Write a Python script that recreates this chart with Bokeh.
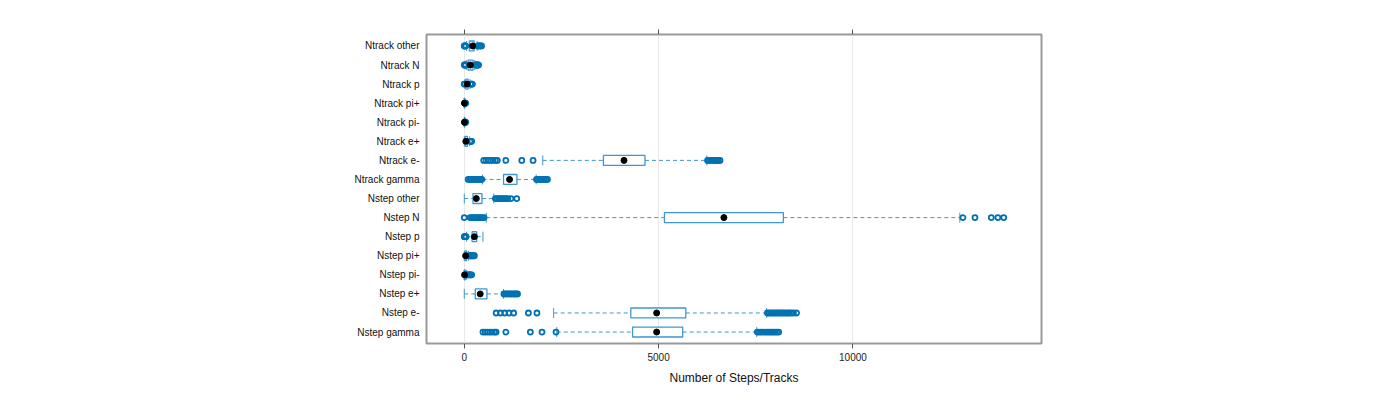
from bokeh.plotting import figure
from bokeh.models import Range1d, LinearAxis, FixedTicker
from bokeh.embed import file_html
from bokeh.resources import INLINE

# categories, bottom to top
categories = ["Nstep gamma", "Nstep e-", "Nstep e+", "Nstep pi-", "Nstep pi+", "Nstep p",
              "Nstep N", "Nstep other", "Ntrack gamma", "Ntrack e-", "Ntrack e+",
              "Ntrack pi-", "Ntrack pi+", "Ntrack p", "Ntrack N", "Ntrack other"]
whisker_low = [2380, 2300, 0, 0, 0, 60, 565, 0, 470, 2020, 0, 0, 0, 15, 50, 60]
q1 = [4330, 4285, 283, 2, 15, 200, 5150, 223, 1010, 3580, 20, 2, 2, 40, 95, 130]
median = [4950, 4950, 410, 8, 35, 260, 6680, 310, 1165, 4110, 40, 4, 4, 70, 155, 215]
q3 = [5620, 5700, 583, 25, 60, 320, 8210, 455, 1355, 4650, 80, 8, 8, 100, 225, 255]
whisker_high = [7525, 7780, 1010, 60, 110, 480, 12750, 760, 1850, 6240, 140, 16, 16, 150, 270, 330]
outliers = [
    [480, 540, 600, 660, 720, 780, 820, 1070, 1700, 2000, 2360,
     7540, 7590, 7640, 7690, 7740, 7790, 7840, 7890, 7940, 7990, 8040, 8090],
    [820, 930, 1040, 1150, 1270, 1650, 1870,
     7800, 7850, 7900, 7950, 8000, 8050, 8100, 8150, 8200, 8250, 8300, 8350, 8400, 8470, 8550],
    [1020, 1060, 1100, 1140, 1180, 1220, 1260, 1300, 1340, 1370],
    [70, 90, 110, 130, 150, 170, 190],
    [120, 140, 160, 180, 200, 220, 240, 260],
    [0, 10, 20, 30, 45],
    [0, 150, 190, 230, 270, 310, 350, 390, 430, 470, 510,
     12830, 13140, 13560, 13730, 13880],
    [800, 840, 880, 920, 960, 1000, 1040, 1080, 1120, 1200, 1350],
    [100, 140, 180, 220, 260, 300, 340, 380, 420, 455,
     1860, 1900, 1940, 1980, 2020, 2060, 2100, 2140],
    [500, 560, 620, 680, 740, 800, 850, 1070, 1480, 1770,
     6260, 6300, 6340, 6380, 6420, 6460, 6500, 6540, 6580],
    [150, 160, 175, 190],
    [20, 25, 30, 40],
    [20, 25, 30, 40],
    [0, 5, 160, 180, 200, 210],
    [0, 10, 25, 35, 290, 310, 330, 350, 370],
    [0, 10, 25, 40, 345, 370, 395, 420, 445],
]
x_ticks = [0, 5000, 10000]
x_label = "Number of Steps/Tracks"

FONT = "Liberation Sans"
BOX_COL = "#3f97d2"
PT_COL = "#0072b2"

ypos = list(range(1, len(categories) + 1))

p = figure(width=1384, height=388, output_backend="svg", toolbar_location=None,
           x_range=Range1d(-972, 14852), y_range=Range1d(0.4, len(categories) + 0.6),
           x_axis_location=None, y_axis_location=None,
           min_border_left=426, min_border_right=343, min_border_top=34, min_border_bottom=45)
p.outline_line_color = "#999999"
p.outline_line_width = 2
p.background_fill_color = "white"
p.border_fill_color = "white"

# grid
p.ygrid.visible = False
p.xgrid.ticker = FixedTicker(ticks=x_ticks)
p.xgrid.grid_line_color = "#e8e8e8"
p.xgrid.grid_line_width = 1

# axes
bottom = LinearAxis(ticker=FixedTicker(ticks=x_ticks), axis_label=x_label)
bottom.axis_line_color = None
bottom.major_tick_out = 5
bottom.major_tick_in = 0
bottom.major_tick_line_color = "#555555"
bottom.minor_tick_line_color = None
bottom.major_label_text_font = FONT
bottom.major_label_text_font_size = "10px"
bottom.major_label_text_color = "#222222"
bottom.major_label_standoff = 4
bottom.axis_label_text_font = FONT
bottom.axis_label_text_font_size = "12px"
bottom.axis_label_text_font_style = "normal"
bottom.axis_label_text_color = "#111111"
bottom.axis_label_standoff = 7
p.add_layout(bottom, "below")

top = LinearAxis(ticker=FixedTicker(ticks=x_ticks))
top.axis_line_color = None
top.major_tick_out = 5
top.major_tick_in = 0
top.major_tick_line_color = "#555555"
top.minor_tick_line_color = None
top.major_label_text_color = None
top.major_label_text_font_size = "10px"
p.add_layout(top, "above")

left = LinearAxis(ticker=FixedTicker(ticks=ypos))
left.major_label_overrides = {i: c for i, c in zip(ypos, categories)}
left.axis_line_color = None
left.major_tick_line_color = None
left.minor_tick_line_color = None
left.major_label_text_font = FONT
left.major_label_text_font_size = "10px"
left.major_label_text_color = "#111111"
left.major_label_standoff = 1
p.add_layout(left, "left")

# whiskers
p.segment(x0=whisker_low, y0=ypos, x1=q1, y1=ypos, line_color=BOX_COL,
          line_dash="4 3", line_width=1)
p.segment(x0=q3, y0=ypos, x1=whisker_high, y1=ypos, line_color=BOX_COL,
          line_dash="4 3", line_width=1)
half = 0.26
p.segment(x0=whisker_low, y0=[y - half for y in ypos], x1=whisker_low,
          y1=[y + half for y in ypos], line_color=BOX_COL, line_width=1)
p.segment(x0=whisker_high, y0=[y - half for y in ypos], x1=whisker_high,
          y1=[y + half for y in ypos], line_color=BOX_COL, line_width=1)

# boxes
p.hbar(y=ypos, left=q1, right=q3, height=0.52, fill_color="white",
       line_color=BOX_COL, line_width=1.3)

# outliers
ox, oy = [], []
for y, vals in zip(ypos, outliers):
    for v in vals:
        ox.append(v)
        oy.append(y)
p.scatter(x=ox, y=oy, marker="circle", size=5, fill_color=None,
          line_color=PT_COL, line_width=1.8)

# medians
p.scatter(x=median, y=ypos, marker="circle", size=6, fill_color="black",
          line_color="black")

open("out.html", "w").write(file_html(p, INLINE))
